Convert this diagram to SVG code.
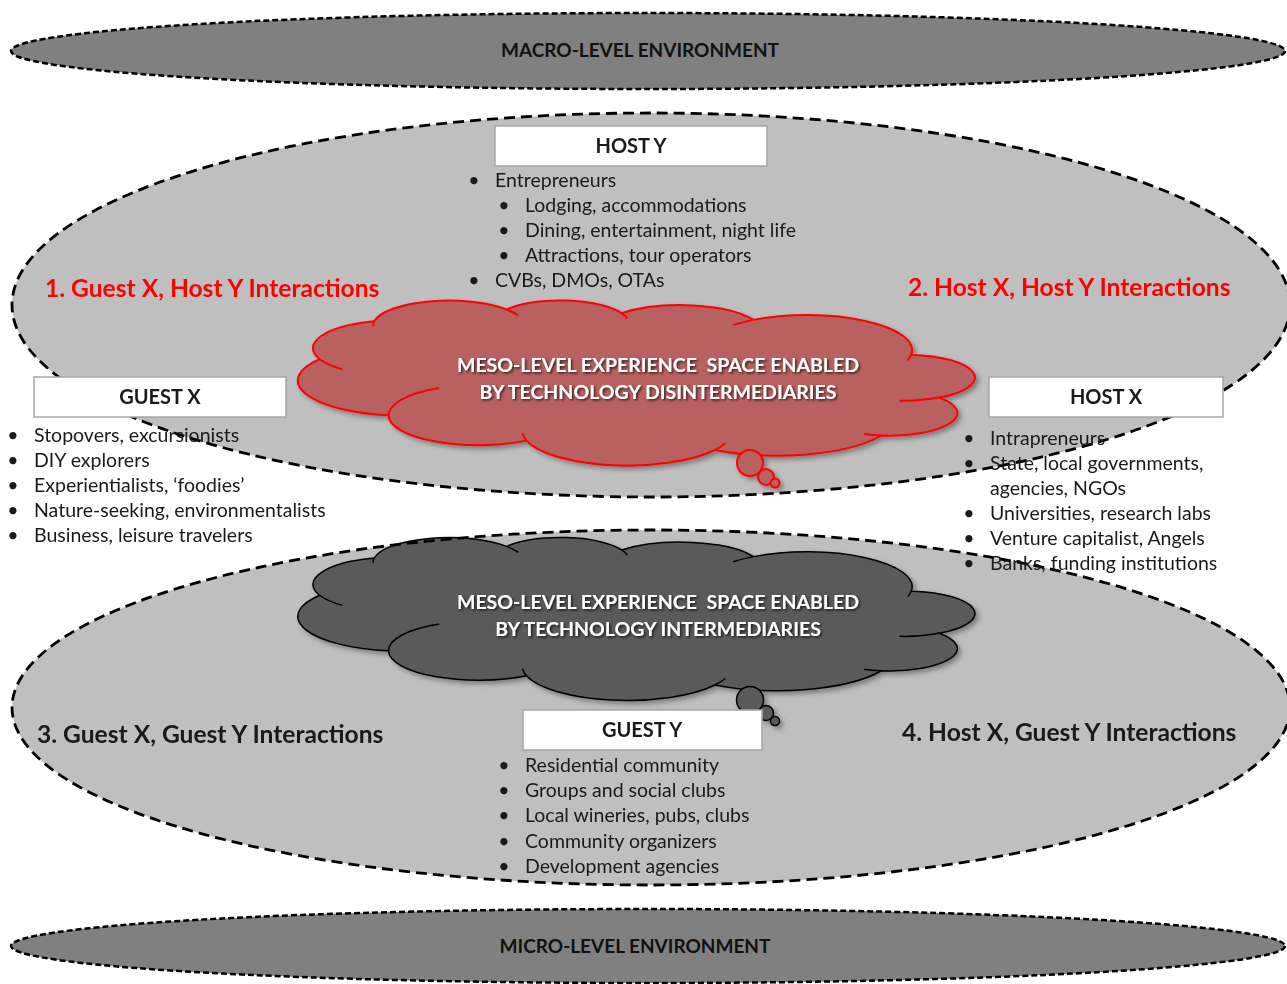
<svg xmlns="http://www.w3.org/2000/svg" width="1287" height="984" viewBox="0 0 1287 984">
<defs>
<style>
.env{fill:#808080;stroke:#000;stroke-width:2.5;stroke-dasharray:6 3}
.big{fill:#bfbfbf;stroke:none}
.bigs{fill:none;stroke:#000;stroke-width:2.8;stroke-dasharray:11 6}
.t{font-family:Lato,"Liberation Sans",sans-serif;font-size:19.5px;fill:#1a1a1a}
.bt{font-family:Lato,"Liberation Sans",sans-serif;font-weight:bold;font-size:20px;fill:#1a1a1a;text-anchor:middle}
.lab{font-family:Lato,"Liberation Sans",sans-serif;font-weight:bold;font-size:19px;fill:#111;text-anchor:middle}
.hd{font-family:Lato,"Liberation Sans",sans-serif;font-weight:bold;font-size:24.6px}
.ct{font-family:Lato,"Liberation Sans",sans-serif;font-weight:bold;font-size:19.5px;fill:#fff;text-anchor:middle}
.box{fill:#fff;stroke:#a6a6a6;stroke-width:1.5}
.bu{text-anchor:middle}
.red{fill:#b96060;stroke:#ff0000;stroke-width:2}
.dark{fill:#5a5a5a;stroke:#000;stroke-width:1.5}
</style>
<path id="cloud" vector-effect="non-scaling-stroke" d="M3900,14370 A6753,9190 0 0 1 14005,5202 A5333,7267 0 0 1 22456,3429 A4365,5945 0 0 1 29834,2477 A4857,6595 0 0 1 38318,5573 A5333,7273 0 0 1 41818,15457 A6775,9220 0 0 1 37404,30199 A5785,7867 0 0 1 28556,36810 A6752,9215 0 0 1 16481,39264 A7720,10543 0 0 1 5805,35471 A4360,5918 0 0 1 2114,25549 A4345,5945 0 0 1 3900,14370 Z"/>
<path id="crease" vector-effect="non-scaling-stroke" fill="none" d="M4652,26346 A4345,5945 0 0 1 2114,25549 M6915,35089 A4360,5918 0 0 1 5805,35471 M16481,39264 A6752,9215 0 0 1 15812,37522 M28822,34901 A6752,9215 0 0 1 28556,36810 M34153,23064 A5785,7867 0 0 1 37404,30199 M41818,15457 A5333,7273 0 0 1 40371,18133 M38318,5573 A4857,6595 0 0 1 38394,6837 M29091,4090 A4857,6595 0 0 1 29834,2477 M22098,4817 A4365,5945 0 0 1 22456,3429 M14005,5202 A6753,9190 0 0 1 15305,6552 M4127,15790 A6753,9190 0 0 1 3900,14370"/>
<filter id="sh" x="-10%" y="-10%" width="120%" height="130%"><feDropShadow dx="3" dy="3" stdDeviation="2.5" flood-color="#000" flood-opacity="0.35"/></filter>
<filter id="tsh" x="-5%" y="-20%" width="110%" height="150%"><feDropShadow dx="1.5" dy="1.5" stdDeviation="1" flood-color="#000" flood-opacity="0.7"/></filter>
</defs>
<rect width="1287" height="984" fill="#fff"/>

<g id="macro">
<ellipse class="env" cx="648" cy="51" rx="637" ry="38"/>
<text class="lab" x="640" y="57">MACRO-LEVEL ENVIRONMENT</text>
</g>

<g id="upper-space">
<ellipse class="big" cx="651" cy="305" rx="639" ry="192"/>
<ellipse class="bigs" cx="651" cy="305" rx="639" ry="192"/>
</g>

<g id="lower-space">
<ellipse class="big" cx="651" cy="707.5" rx="639" ry="177.5"/>
</g>

<g id="micro">
<ellipse class="env" cx="648" cy="946" rx="637" ry="37"/>
<text class="lab" x="635" y="953">MICRO-LEVEL ENVIRONMENT</text>
</g>

<g id="cloud-disintermediaries" filter="url(#sh)">
<g transform="translate(972,300) scale(-0.0156,0.00382)">
<use href="#cloud" class="red"/>
<use href="#crease" stroke="#ff0000" stroke-width="2"/>
</g>
<circle cx="750" cy="463" r="13" class="red"/>
<circle cx="766" cy="477" r="8" class="red"/>
<circle cx="775" cy="483" r="4.5" class="red"/>
<g filter="url(#tsh)">
<text class="ct" x="658" y="372" xml:space="preserve">MESO-LEVEL EXPERIENCE  SPACE ENABLED</text>
<text class="ct" x="658" y="399">BY TECHNOLOGY DISINTERMEDIARIES</text>
</g>
</g>

<g id="cloud-intermediaries" filter="url(#sh)">
<g transform="translate(972,537) scale(-0.0156,0.00377)">
<use href="#cloud" class="dark"/>
<use href="#crease" stroke="#000" stroke-width="1.5"/>
</g>
<circle cx="750" cy="700" r="13.5" class="dark"/>
<circle cx="766" cy="713" r="7.5" class="dark"/>
<circle cx="775" cy="721" r="4.5" class="dark"/>
<g filter="url(#tsh)">
<text class="ct" x="658" y="609" xml:space="preserve">MESO-LEVEL EXPERIENCE  SPACE ENABLED</text>
<text class="ct" x="658" y="636">BY TECHNOLOGY INTERMEDIARIES</text>
</g>
</g>

<g id="lower-outline">
<ellipse class="bigs" cx="651" cy="707.5" rx="639" ry="177.5"/>
</g>

<g id="host-y">
<rect class="box" x="495" y="126" width="272" height="40"/>
<text class="bt" x="631" y="153">HOST Y</text>
<text class="t bu" x="474" y="187">•</text><text class="t" x="495" y="187">Entrepreneurs</text>
<text class="t bu" x="504" y="212">•</text><text class="t" x="525" y="212">Lodging, accommodations</text>
<text class="t bu" x="504" y="237">•</text><text class="t" x="525" y="237">Dining, entertainment, night life</text>
<text class="t bu" x="504" y="262">•</text><text class="t" x="525" y="262">Attractions, tour operators</text>
<text class="t bu" x="474" y="287">•</text><text class="t" x="495" y="287">CVBs, DMOs, OTAs</text>
</g>

<g id="guest-x">
<rect class="box" x="34" y="377" width="252" height="40"/>
<text class="bt" x="160" y="404">GUEST X</text>
<text class="t bu" x="13" y="442">•</text><text class="t" x="34" y="442">Stopovers, excursionists</text>
<text class="t bu" x="13" y="467">•</text><text class="t" x="34" y="467">DIY explorers</text>
<text class="t bu" x="13" y="492">•</text><text class="t" x="34" y="492">Experientialists, ‘foodies’</text>
<text class="t bu" x="13" y="517">•</text><text class="t" x="34" y="517">Nature-seeking, environmentalists</text>
<text class="t bu" x="13" y="542">•</text><text class="t" x="34" y="542">Business, leisure travelers</text>
</g>

<g id="host-x">
<rect class="box" x="989" y="377" width="234" height="40"/>
<text class="bt" x="1106" y="404">HOST X</text>
<text class="t bu" x="969" y="445">•</text><text class="t" x="990" y="445">Intrapreneurs</text>
<text class="t bu" x="969" y="470">•</text><text class="t" x="990" y="470">State, local governments,</text>
<text class="t" x="990" y="495">agencies, NGOs</text>
<text class="t bu" x="969" y="520">•</text><text class="t" x="990" y="520">Universities, research labs</text>
<text class="t bu" x="969" y="545">•</text><text class="t" x="990" y="545">Venture capitalist, Angels</text>
<text class="t bu" x="969" y="570">•</text><text class="t" x="990" y="570">Banks, funding institutions</text>
</g>

<g id="guest-y">
<rect class="box" x="523" y="710" width="239" height="40"/>
<text class="bt" x="642" y="737">GUEST Y</text>
<text class="t bu" x="504" y="772">•</text><text class="t" x="525" y="772">Residential community</text>
<text class="t bu" x="504" y="797">•</text><text class="t" x="525" y="797">Groups and social clubs</text>
<text class="t bu" x="504" y="822">•</text><text class="t" x="525" y="822">Local wineries, pubs, clubs</text>
<text class="t bu" x="504" y="848">•</text><text class="t" x="525" y="848">Community organizers</text>
<text class="t bu" x="504" y="873">•</text><text class="t" x="525" y="873">Development agencies</text>
</g>

<g id="interactions">
<text class="hd" x="45" y="297" fill="#ff0000">1. Guest X, Host Y Interactions</text>
<text class="hd" x="908" y="296" fill="#ff0000">2. Host X, Host Y Interactions</text>
<text class="hd" x="37" y="743" fill="#1a1a1a">3. Guest X, Guest Y Interactions</text>
<text class="hd" x="902" y="741" fill="#1a1a1a">4. Host X, Guest Y Interactions</text>
</g>

<g id="connectors"></g>
</svg>
